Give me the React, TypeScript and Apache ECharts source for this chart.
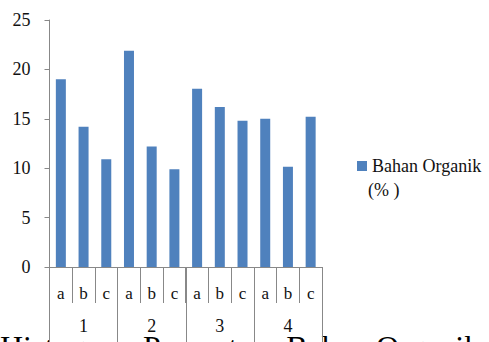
import React, { useEffect, useRef } from "react";
import * as echarts from "echarts";

const subCategories = ["a", "b", "c", "a", "b", "c", "a", "b", "c", "a", "b", "c"];
const groupCategories = ["1", "2", "3", "4"];
const values = [19.0, 14.2, 10.9, 21.9, 12.2, 9.9, 18.05, 16.2, 14.8, 15.0, 10.15, 15.2];
const seriesName = "Bahan Organik";
const legendSuffix = "(% )";
const captionText = "Histogram Persentase Bahan Organik";

const FONT = "Times New Roman, Liberation Serif, DejaVu Serif, serif";
const AXIS_COLOR = "#888888";

export default function App() {
  const ref = useRef<HTMLDivElement>(null);
  useEffect(() => {
    if (!ref.current) return;
    const chart = echarts.init(ref.current, undefined, { renderer: "svg" });
    chart.setOption({
      animation: false,
      backgroundColor: "#ffffff",
      textStyle: { fontFamily: FONT },
      grid: { left: 49.5, right: 167, top: 20, bottom: 75, containLabel: false },
      legend: {
        left: 352,
        top: 152,
        itemWidth: 10,
        itemHeight: 10,
        icon: "rect",
        data: [seriesName],
        textStyle: { fontFamily: FONT, fontSize: 18, color: "#111" },
      },
      xAxis: [
        {
          type: "category",
          data: subCategories,
          position: "bottom",
          axisLine: { show: true, lineStyle: { color: AXIS_COLOR, width: 1 } },
          axisTick: { show: true, length: 36, interval: 0, alignWithLabel: false, lineStyle: { color: AXIS_COLOR } },
          axisLabel: { interval: 0, margin: 18, fontFamily: FONT, fontSize: 17, color: "#111" },
        },
        {
          type: "category",
          data: groupCategories,
          position: "bottom",
          axisLine: { show: false },
          axisTick: { show: true, length: 90, interval: 0, alignWithLabel: false, lineStyle: { color: AXIS_COLOR } },
          axisLabel: { interval: 0, margin: 50, fontFamily: FONT, fontSize: 18, color: "#111" },
        },
      ],
      yAxis: {
        type: "value",
        min: 0,
        max: 25,
        interval: 5,
        splitLine: { show: false },
        axisLine: { show: true, lineStyle: { color: AXIS_COLOR, width: 1 } },
        axisTick: { show: true, length: 5, lineStyle: { color: AXIS_COLOR } },
        axisLabel: { margin: 19, fontFamily: FONT, fontSize: 18, color: "#111" },
      },
      series: [
        {
          name: seriesName,
          type: "bar",
          xAxisIndex: 0,
          data: values,
          barWidth: 10,
          itemStyle: { color: "#4F81BD" },
        },
      ],
      graphic: [
        {
          type: "text",
          left: 368,
          top: 181,
          style: { text: legendSuffix, fontFamily: FONT, fontSize: 18, fill: "#111" },
        },
        {
          type: "text",
          x: 0,
          y: 331,
          style: {
            text: captionText,
            fontFamily: FONT,
            fontSize: 32,
            fill: "#000",
            verticalAlign: "top",
          },
        },
      ],
    });
    return () => chart.dispose();
  }, []);
  return (
    <div
      ref={ref}
      style={{ position: "fixed", left: 0, top: 0, width: 489, height: 342 }}
    />
  );
}
